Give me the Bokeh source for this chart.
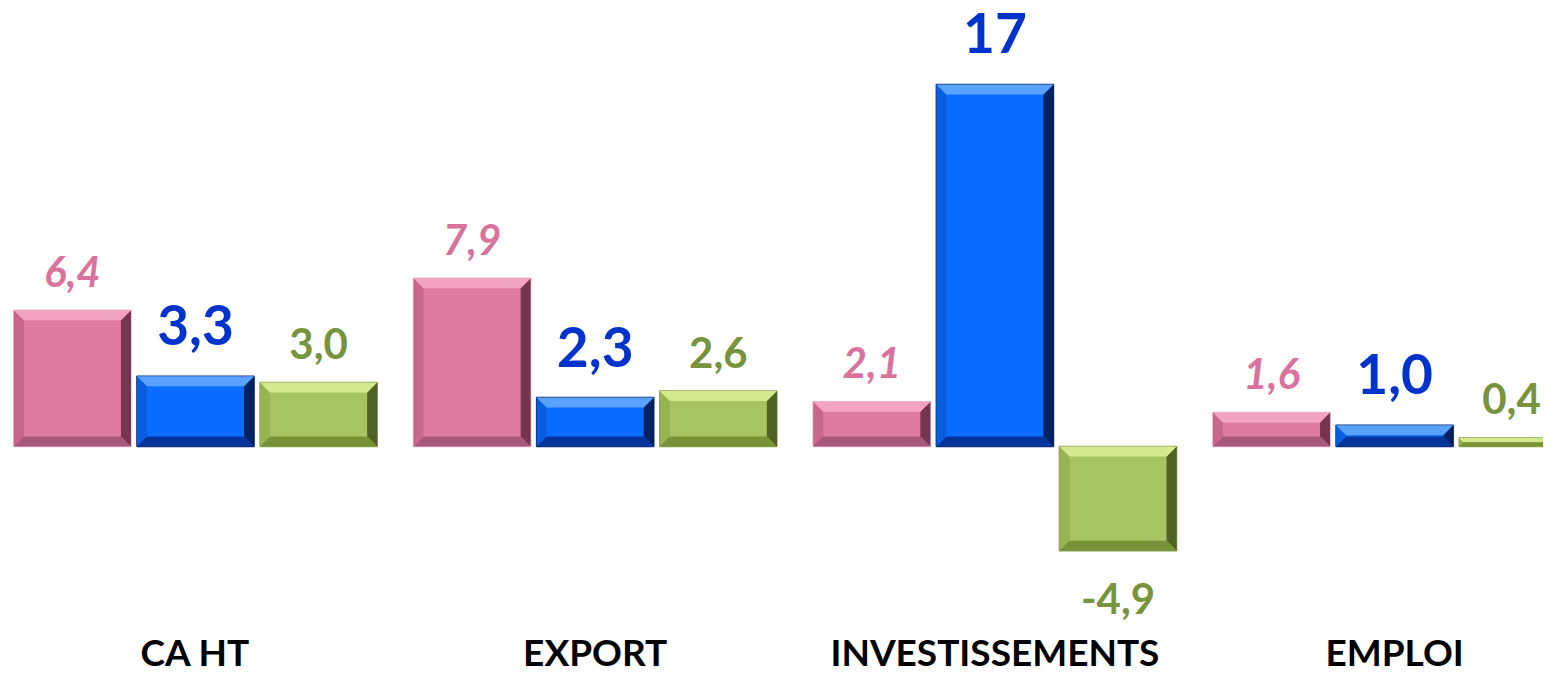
from bokeh.plotting import figure
from bokeh.models import Range1d, ColumnDataSource
from bokeh.core.properties import value
from bokeh.embed import file_html
from bokeh.resources import INLINE

# ---- data ----
categories = ["CA HT", "EXPORT", "INVESTISSEMENTS", "EMPLOI"]
series_pink = [6.4, 7.9, 2.1, 1.6]
series_blue = [3.3, 2.3, 17.0, 1.0]
series_green = [3.0, 2.6, -4.9, 0.4]

# ---- layout ----
W, H = 1543, 677
px_x = 399.7          # pixels per category
px_y = 21.3           # pixels per unit
zero_px = 446         # zero line from top of figure
x0 = -195 / px_x
x1 = x0 + W / px_x
y_top = zero_px / px_y
y_bot = -(H - zero_px) / px_y

p = figure(width=W, height=H, output_backend="svg", toolbar_location=None,
           x_range=Range1d(x0, x1), y_range=Range1d(y_bot, y_top),
           min_border=0, outline_line_color=None)
p.axis.visible = False
p.grid.visible = False
p.background_fill_color = "white"
p.border_fill_color = "white"

bar_w = 0.293
offs = [-0.308, 0.0, 0.308]

styles = [
    dict(series=series_pink, base="#de7ba0", top="#f3a3c2", left="#c8678c", right="#6a2d45",
         bottom="#a6587a", outline="#e9b4c8", txt="#d9739b", size="42px", style="bold italic",
         gap=39),
    dict(series=series_blue, base="#0a6cff", top="#5aa2ff", left="#075ee0", right="#001a4f",
         bottom="#00349a", outline="#0d2a78", txt="#0033cc", size="55px", style="bold",
         gap=51),
    dict(series=series_green, base="#a6c461", top="#d3e88f", left="#97b352", right="#46561f",
         bottom="#789238", outline="#8aa449", txt="#77933c", size="42px", style="bold",
         gap=39),
]

FONT = "Lato"

def fmt(v):
    if abs(v) >= 10:
        return "%d" % round(v)
    return ("%.1f" % v).replace(".", ",")

for st, off in zip(styles, offs):
    vals = st["series"]
    xs = [i + off for i in range(len(vals))]
    lefts = [x - bar_w / 2 for x in xs]
    rights = [x + bar_w / 2 for x in xs]
    tops = [max(0, v) for v in vals]
    bots = [min(0, v) for v in vals]
    # base rectangle
    p.quad(left=lefts, right=rights, top=tops, bottom=bots,
           fill_color=st["base"], line_color=st["outline"], line_width=1.5)
    # bevels
    tp, bp, lp, rp = [], [], [], []
    for l, r, t, b in zip(lefts, rights, tops, bots):
        hpx = (t - b) * px_y
        bev = min(10.0, hpx / 2)
        dx = bev / px_x
        dy = bev / px_y
        tp.append(([l, r, r - dx, l + dx], [t, t, t - dy, t - dy]))
        bp.append(([l, r, r - dx, l + dx], [b, b, b + dy, b + dy]))
        lp.append(([l, l, l + dx, l + dx], [b, t, t - dy, b + dy]))
        rp.append(([r, r, r - dx, r - dx], [b, t, t - dy, b + dy]))
    for parts, col, alpha in [(lp, st["left"], 1.0), (rp, st["right"], 0.9),
                              (tp, st["top"], 1.0), (bp, st["bottom"], 1.0)]:
        p.patches(xs=[a for a, _ in parts], ys=[c for _, c in parts],
                  fill_color=col, fill_alpha=alpha, line_color=None)
    # value labels
    ly = []
    for v in vals:
        if v >= 0:
            ly.append(v + st["gap"] / px_y)
        else:
            ly.append(v - 48 / px_y)
    lx = [min(x, x1 - 32 / px_x) for x in xs]
    src = ColumnDataSource(dict(x=lx, y=ly, t=[fmt(v) for v in vals]))
    p.text(x="x", y="y", text="t", source=src, text_align="center",
           text_baseline="alphabetic", text_color=st["txt"],
           text_font=value(FONT), text_font_size=st["size"],
           text_font_style=st["style"])

# category labels
cat_src = ColumnDataSource(dict(x=list(range(len(categories))),
                                y=[y_bot + 26 / px_y] * len(categories),
                                t=categories))
p.text(x="x", y="y", text="t", source=cat_src, text_align="center",
       text_baseline="alphabetic", text_color="black",
       text_font=value(FONT), text_font_size="37px", text_font_style="bold")

open("out.html", "w").write(file_html(p, INLINE))
